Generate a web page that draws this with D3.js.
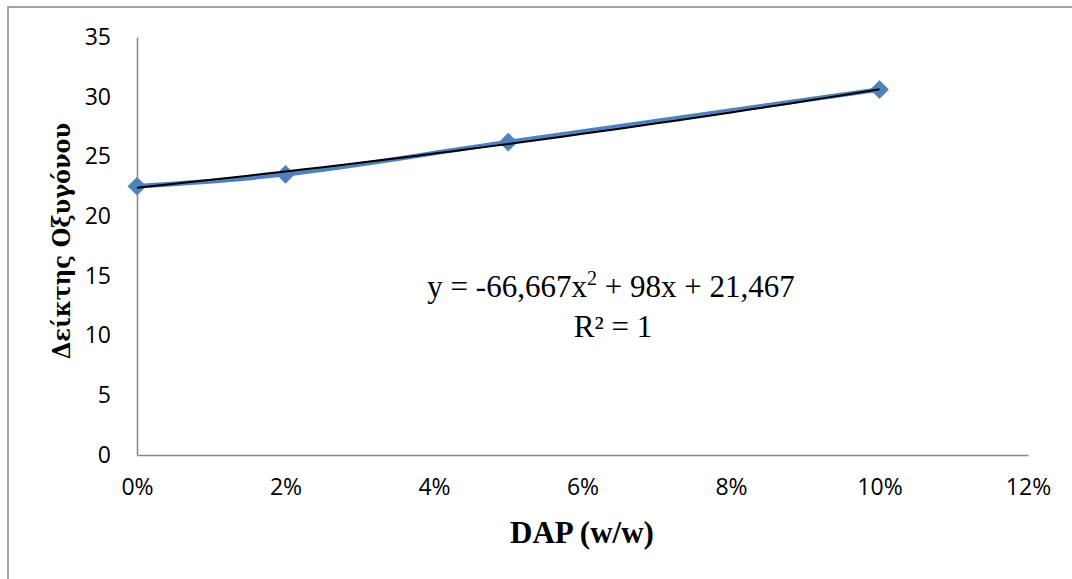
<!DOCTYPE html>
<html lang="el">
<head>
    <meta charset="UTF-8">
    <title>Δείκτης Οξυγόνου - DAP</title>
    <script src="https://d3js.org/d3.v7.min.js"></script>
    <style>
        body { margin: 0; background: #fff; }
        svg { display: block; }
        .tick text { font-family: "Open Sans", "Noto Sans", sans-serif; font-size: 23px; fill: #000; }
        .title { font-family: "Liberation Serif", "DejaVu Serif", serif; font-weight: bold; fill: #000; }
        .ytitle { font-family: "DejaVu Serif Condensed", "DejaVu Serif", serif; font-weight: bold; fill: #000; }
        .eq { font-family: "Liberation Serif", "DejaVu Serif", serif; font-size: 31px; fill: #000; }
    </style>
    <script>
        // DAP content (w/w) and measured oxygen index
        let dap = [0, 0.02, 0.05, 0.10];
        let oxygenIndex = [22.5, 23.5, 26.2, 30.6];

        let xTicks = [0, 0.02, 0.04, 0.06, 0.08, 0.10, 0.12];
        let yTicks = [0, 5, 10, 15, 20, 25, 30, 35];

        let eqLine1 = ["y = -66,667x", "2", " + 98x + 21,467"];
        let eqLine2 = "R² = 1";

        // least squares quadratic, like the excel trendline
        function quadFit(xs, ys) {
            let s = [0, 0, 0, 0, 0], t = [0, 0, 0];
            xs.forEach(function(x, i) {
                for (let k = 0; k < 5; k++) s[k] += Math.pow(x, k);
                for (let k = 0; k < 3; k++) t[k] += Math.pow(x, k) * ys[i];
            });
            let m = [[s[0], s[1], s[2], t[0]], [s[1], s[2], s[3], t[1]], [s[2], s[3], s[4], t[2]]];
            for (let i = 0; i < 3; i++) {
                for (let j = i + 1; j < 3; j++) {
                    let f = m[j][i] / m[i][i];
                    for (let k = i; k < 4; k++) m[j][k] -= f * m[i][k];
                }
            }
            let c = [0, 0, 0];
            for (let i = 2; i >= 0; i--) {
                let v = m[i][3];
                for (let k = i + 1; k < 3; k++) v -= m[i][k] * c[k];
                c[i] = v / m[i][i];
            }
            return c;
        }

        document.addEventListener("DOMContentLoaded", function() {
            const width = 1072, height = 579;
            const svg = d3.select("svg").attr("width", width).attr("height", height);

            // outer chart border
            svg.append("rect")
                .attr("x", 8).attr("y", 7)
                .attr("width", 1200).attr("height", 700)
                .attr("fill", "none")
                .attr("stroke", "#878787")
                .attr("stroke-width", 1.5);

            const x = d3.scaleLinear().domain([0, 0.12]).range([137, 1028]);
            const y = d3.scaleLinear().domain([0, 35]).range([455, 37]);

            const xAxis = svg.append("g")
                .attr("transform", "translate(0,455)")
                .call(d3.axisBottom(x).tickValues(xTicks).tickSize(0).tickPadding(24)
                    .tickFormat(d3.format(".0%")));
            xAxis.select(".domain").attr("stroke", "#868686").attr("stroke-width", 1.5);

            const yAxis = svg.append("g")
                .attr("transform", "translate(137,0)")
                .call(d3.axisLeft(y).tickValues(yTicks).tickSize(0).tickPadding(26));
            yAxis.select(".domain").attr("stroke", "#868686").attr("stroke-width", 1.5);

            const pts = dap.map(function(d, i) { return {x: d, y: oxygenIndex[i]}; });

            const line = d3.line()
                .x(function(d) { return x(d.x); })
                .y(function(d) { return y(d.y); })
                .curve(d3.curveCatmullRom.alpha(0.5));

            svg.append("path")
                .datum(pts)
                .attr("d", line)
                .attr("fill", "none")
                .attr("stroke", "#4F81BD")
                .attr("stroke-width", 4.5);

            svg.selectAll(".marker")
                .data(pts)
                .join("path")
                .attr("class", "marker")
                .attr("d", d3.symbol(d3.symbolSquare, 165))
                .attr("transform", function(d) { return "translate(" + x(d.x) + "," + y(d.y) + ") rotate(45)"; })
                .attr("fill", "#4F81BD")
                .attr("stroke", "#4A7EBB")
                .attr("stroke-width", 0.5);

            // trendline
            const c = quadFit(dap, oxygenIndex);
            const trend = d3.range(0, 0.1001, 0.0025).map(function(v) {
                return {x: v, y: c[0] + c[1] * v + c[2] * v * v};
            });
            svg.append("path")
                .datum(trend)
                .attr("d", d3.line().x(function(d) { return x(d.x); }).y(function(d) { return y(d.y); }))
                .attr("fill", "none")
                .attr("stroke", "#000")
                .attr("stroke-width", 2);

            // equation label
            const t1 = svg.append("text").attr("class", "eq")
                .attr("x", 611).attr("y", 297).attr("text-anchor", "middle");
            t1.append("tspan").text(eqLine1[0]);
            t1.append("tspan").attr("font-size", "20px").attr("dy", -12).text(eqLine1[1]);
            t1.append("tspan").attr("dy", 12).text(eqLine1[2]);

            svg.append("text").attr("class", "eq")
                .attr("x", 613).attr("y", 337).attr("text-anchor", "middle")
                .text(eqLine2);

            // axis titles
            svg.append("text").attr("class", "title")
                .attr("x", 582).attr("y", 543)
                .attr("text-anchor", "middle")
                .attr("font-size", "31px")
                .text("DAP (w/w)");

            svg.append("text").attr("class", "ytitle")
                .attr("transform", "translate(70,241) rotate(-90)")
                .attr("text-anchor", "middle")
                .attr("font-size", "25px")
                .text("Δείκτης Οξυγόνου");
        });
    </script>
</head>
<body>
    <svg></svg>
</body>
</html>
